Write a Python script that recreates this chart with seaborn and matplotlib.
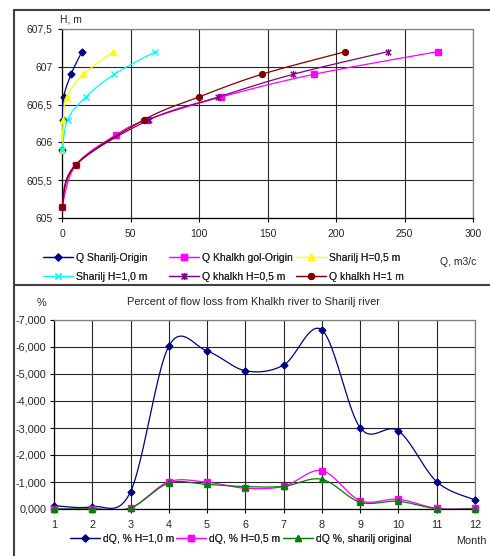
import numpy as np
import pandas as pd
import matplotlib
matplotlib.use("Agg")
import matplotlib.pyplot as plt
import seaborn as sns
from matplotlib.lines import Line2D
from matplotlib.path import Path
from matplotlib.ticker import FuncFormatter, MultipleLocator

# ---------------- data: top chart (rating curves) ----------------
h_sharilj = [605.9, 606.3, 606.6, 606.9, 607.2]
q_sharilj_origin = [0.0, 0.4, 1.2, 6.6, 14.5]
q_sharilj_h05 = [0.0, 1.0, 3.4, 15.6, 37.5]
q_sharilj_h10 = [0.3, 4.1, 17.3, 38.0, 68.0]

h_khalkh_origin = [605.15, 605.7, 606.1, 606.3, 606.6, 606.9, 607.2]
q_khalkh_origin = [0.0, 10.0, 39.4, 62.0, 116.0, 183.7, 274.2]
h_khalkh = [605.15, 605.7, 606.3, 606.6, 606.9, 607.2]
q_khalkh_h05 = [0.0, 9.8, 63.8, 114.0, 168.6, 237.7]
q_khalkh_h10 = [0.0, 10.0, 60.0, 99.8, 145.7, 206.8]

# ---------------- data: bottom chart (percent flow loss) ----------------
months = [1, 2, 3, 4, 5, 6, 7, 8, 9, 10, 11, 12]
dq_h10 = [-120, -85, -640, -6030, -5850, -5120, -5330, -6630, -3010, -2890, -1010, -333]
dq_h05 = [-10, -5, -40, -1010, -990, -770, -840, -1420, -310, -360, -25, -20]
dq_orig = [-5, -5, -40, -960, -910, -830, -840, -1100, -250, -285, -10, -10]

top_labels = ["Q Sharilj-Origin", "Q Khalkh gol-Origin", "Sharilj H=0,5 m",
              "Sharilj H=1,0 m", "Q khalkh H=0,5 m", "Q khalkh H=1 m"]
bottom_labels = ["dQ, % H=1,0 m", "dQ, % H=0,5 m", "dQ %, sharilj original"]

sns.set_theme(style="white")
plt.rcParams['font.family'] = ['Liberation Sans', 'DejaVu Sans']
plt.rcParams['font.size'] = 7.5

STAR = Path([(-1, -1), (1, 1), (-1, 1), (1, -1), (0, -1.25), (0, 1.25)],
            [Path.MOVETO, Path.LINETO, Path.MOVETO, Path.LINETO, Path.MOVETO, Path.LINETO])


def smooth(xs, ys, n=24):
    """Bezier smoothing through the points (like Excel's smoothed lines)."""
    p = np.column_stack([xs, ys]).astype(float)
    if len(p) < 3:
        return p[:, 0], p[:, 1]
    ext = np.vstack([p[0], p, p[-1]])
    out = []
    for i in range(1, len(ext) - 2):
        p0, p1, p2, p3 = ext[i - 1], ext[i], ext[i + 1], ext[i + 2]
        c1 = p1 + (p2 - p0) / 6.0
        c2 = p2 - (p3 - p1) / 6.0
        t = np.linspace(0, 1, n, endpoint=(i == len(ext) - 3))[:, None]
        seg = ((1 - t) ** 3) * p1 + 3 * ((1 - t) ** 2) * t * c1 + 3 * (1 - t) * t ** 2 * c2 + t ** 3 * p2
        out.append(seg)
    out = np.vstack(out)
    return out[:, 0], out[:, 1]


W, H = 490, 556
fig = plt.figure(figsize=(W / 100, H / 100), dpi=100)
fig.patch.set_facecolor('white')


def rect(l, t, r, b):
    return [l / W, 1 - b / H, (r - l) / W, (b - t) / H]


def style_axes(ax, ls=7.5, ypad=4):
    ax.set_facecolor('white')
    for s in ['top', 'right']:
        ax.spines[s].set_color('#808080')
        ax.spines[s].set_linewidth(0.9)
    for s in ['left', 'bottom']:
        ax.spines[s].set_color('black')
        ax.spines[s].set_linewidth(0.9)
    ax.grid(True, color='#262626', linewidth=0.8)
    ax.set_axisbelow(True)
    ax.tick_params(axis='both', which='major', direction='out', length=3, width=0.8,
                   color='black', labelsize=ls, bottom=True, left=True)
    ax.tick_params(axis='x', pad=5)
    ax.tick_params(axis='y', pad=ypad)


def draw(ax, xs, ys, color, marker, ms, label, mew=1.0, zorder=3, lw=0.9):
    sx, sy = smooth(xs, ys)
    df = pd.DataFrame({'x': sx, 'y': sy})
    sns.lineplot(data=df, x='x', y='y', sort=False, estimator=None, color=color,
                 linewidth=lw, ax=ax, zorder=zorder, legend=False)
    ax.plot(xs, ys, linestyle='none', marker=marker, markersize=ms, color=color,
            markeredgecolor=color, markeredgewidth=mew, zorder=zorder + 0.05, clip_on=False)
    return Line2D([], [], color=color, marker=marker, markersize=ms, linewidth=lw,
                  markeredgewidth=mew, markeredgecolor=color, label=label)


def legend_column(handles, x_px, y_px):
    lg = fig.legend(handles=handles, loc='upper left', bbox_to_anchor=(x_px / W, 1 - y_px / H),
                    ncol=1, frameon=False, fontsize=7.5, handlelength=2.9, handletextpad=0.3,
                    labelspacing=0.85, borderaxespad=0, borderpad=0)
    fig.add_artist(lg)
    return lg


# ---------------- top chart ----------------
ax1 = fig.add_axes(rect(62, 29, 473, 218))
style_axes(ax1)
h = []
h.append(draw(ax1, q_sharilj_origin, h_sharilj, '#000080', 'D', 3.5, top_labels[0], zorder=3.0))
h.append(draw(ax1, q_khalkh_origin, h_khalkh_origin, '#FF00FF', 's', 4.5, top_labels[1], zorder=3.1))
h.append(draw(ax1, q_sharilj_h05, h_sharilj, '#FFFF00', '^', 5, top_labels[2], zorder=3.2))
h.append(draw(ax1, q_sharilj_h10, h_sharilj, '#00FFFF', 'x', 5, top_labels[3], zorder=3.3))
h.append(draw(ax1, q_khalkh_h05, h_khalkh, '#800080', STAR, 5, top_labels[4], zorder=3.4))
h.append(draw(ax1, q_khalkh_h10, h_khalkh, '#800000', 'o', 4.2, top_labels[5], zorder=3.5))
ax1.set_xlim(0, 300)
ax1.set_ylim(605, 607.5)
ax1.xaxis.set_major_locator(MultipleLocator(50))
ax1.yaxis.set_major_locator(MultipleLocator(0.5))
ax1.yaxis.set_major_formatter(FuncFormatter(lambda v, p: f"{v:g}".replace('.', ',')))
ax1.set_xlabel('')
ax1.set_ylabel('')
fig.text(60 / W, 1 - 19 / H, 'H, m', fontsize=7.5, ha='left', va='center')
fig.text(458 / W, 1 - 262 / H, 'Q, m3/c', fontsize=7.5, ha='center', va='center')
legend_column([h[0], h[3]], 43, 253)
legend_column([h[1], h[4]], 169, 253)
legend_column([h[2], h[5]], 296, 253)

# ---------------- bottom chart ----------------
ax2 = fig.add_axes(rect(54, 320, 475, 509))
style_axes(ax2, ls=7.8, ypad=2.5)
h2 = []
h2.append(draw(ax2, months, dq_h10, '#000080', 'D', 3.5, bottom_labels[0], zorder=3.1))
h2.append(draw(ax2, months, dq_h05, '#FF00FF', 's', 4.5, bottom_labels[1], zorder=3.2))
h2.append(draw(ax2, months, dq_orig, '#008000', '^', 5, bottom_labels[2], zorder=3.3))
ax2.set_xlim(1, 12)
ax2.set_ylim(0, -7000)
ax2.xaxis.set_major_locator(MultipleLocator(1))
ax2.yaxis.set_major_locator(MultipleLocator(1000))


def fmt_pct(v, p):
    if abs(v) < 1e-9:
        v = 0.0
    return f"{v / 1000:.3f}".replace('.', ',')


ax2.yaxis.set_major_formatter(FuncFormatter(fmt_pct))
ax2.set_xlabel('')
ax2.set_ylabel('')
fig.text(253 / W, 1 - 302 / H, 'Percent of flow loss from Khalkh river to Sharilj river',
         fontsize=7.9, ha='center', va='center')
fig.text(41 / W, 1 - 303 / H, '%', fontsize=7.8, ha='center', va='center')
fig.text(471 / W, 1 - 541 / H, 'Month', fontsize=7.8, ha='center', va='center')
legend_column([h2[0]], 70, 534)
legend_column([h2[1]], 176, 534)
legend_column([h2[2]], 283, 534)

# ---------------- outer frame lines ----------------
fc = '#404040'
fig.add_artist(Line2D([14 / W, 1], [1 - 10 / H, 1 - 10 / H], color=fc, linewidth=1.5, transform=fig.transFigure))
fig.add_artist(Line2D([14 / W, 14 / W], [1 - 10 / H, 0], color=fc, linewidth=1.5, transform=fig.transFigure))
fig.add_artist(Line2D([14 / W, 1], [1 - 285 / H, 1 - 285 / H], color=fc, linewidth=1.5, transform=fig.transFigure))

fig.savefig('out.png', dpi=100, facecolor='white')
